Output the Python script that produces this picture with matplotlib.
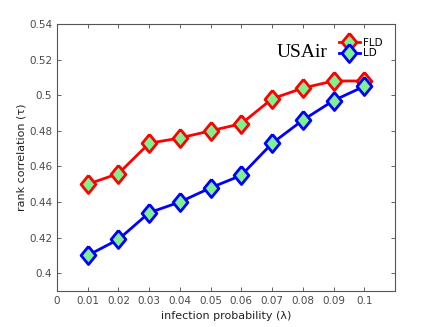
import numpy as np
import matplotlib.pyplot as plt

lam = [0.01, 0.02, 0.03, 0.04, 0.05, 0.06, 0.07, 0.08, 0.09, 0.1]
fld = [0.450, 0.456, 0.473, 0.476, 0.480, 0.484, 0.498, 0.504, 0.508, 0.508]
ld = [0.410, 0.419, 0.434, 0.440, 0.448, 0.455, 0.473, 0.486, 0.497, 0.505]
xticks = [0, 0.01, 0.02, 0.03, 0.04, 0.05, 0.06, 0.07, 0.08, 0.09, 0.1]
xlabels = ['0', '0.01', '0.02', '0.03', '0.04', '0.05', '0.06', '0.07', '0.08', '0.09', '0.1']
yticks = [0.4, 0.42, 0.44, 0.46, 0.48, 0.5, 0.52, 0.54]
ylabels = ['0.4', '0.42', '0.44', '0.46', '0.48', '0.5', '0.52', '0.54']

green = '#80f090'
grey = '#4a4a4a'
# matlab-like diamond, slightly taller than wide
dmd = [(0, 1), (0.82, 0), (0, -1), (-0.82, 0), (0, 1)]

fig = plt.figure(figsize=(4.36, 3.27), dpi=100)
ax = fig.add_axes([0.1307, 0.110, 0.7753, 0.8166])

ax.plot(lam, fld, '-', color='red', lw=2, marker=dmd, ms=13, mfc=green, mec='red', mew=2, label='FLD')
ax.plot(lam, ld, '-', color='blue', lw=2, marker=dmd, ms=13, mfc=green, mec='blue', mew=2, label='LD')

ax.set_xlim(0, 0.11)
ax.set_ylim(0.39, 0.54)
ax.set_xticks(xticks)
ax.set_xticklabels(xlabels)
ax.set_yticks(yticks)
ax.set_yticklabels(ylabels)
ax.tick_params(direction='in', top=True, right=True, labelsize=7.5, colors=grey, length=3, width=0.6)
for s in ax.spines.values():
    s.set_color('#555555')
    s.set_linewidth(0.8)

ax.set_xlabel('infection probability (λ)', fontsize=8, color='#222222', labelpad=4)
ax.set_ylabel('rank correlation (τ)', fontsize=8, color='#222222', labelpad=2)

ax.text(0.651, 0.892, 'USAir', transform=ax.transAxes, fontsize=14, family='Liberation Serif', va='center', ha='left')
leg = ax.legend(loc='upper right', bbox_to_anchor=(0.985, 0.975), frameon=False, fontsize=7.5,
                handlelength=2.0, handletextpad=0.3, labelspacing=0.05, borderpad=0.2)

fig.savefig('out.png', dpi=100)
